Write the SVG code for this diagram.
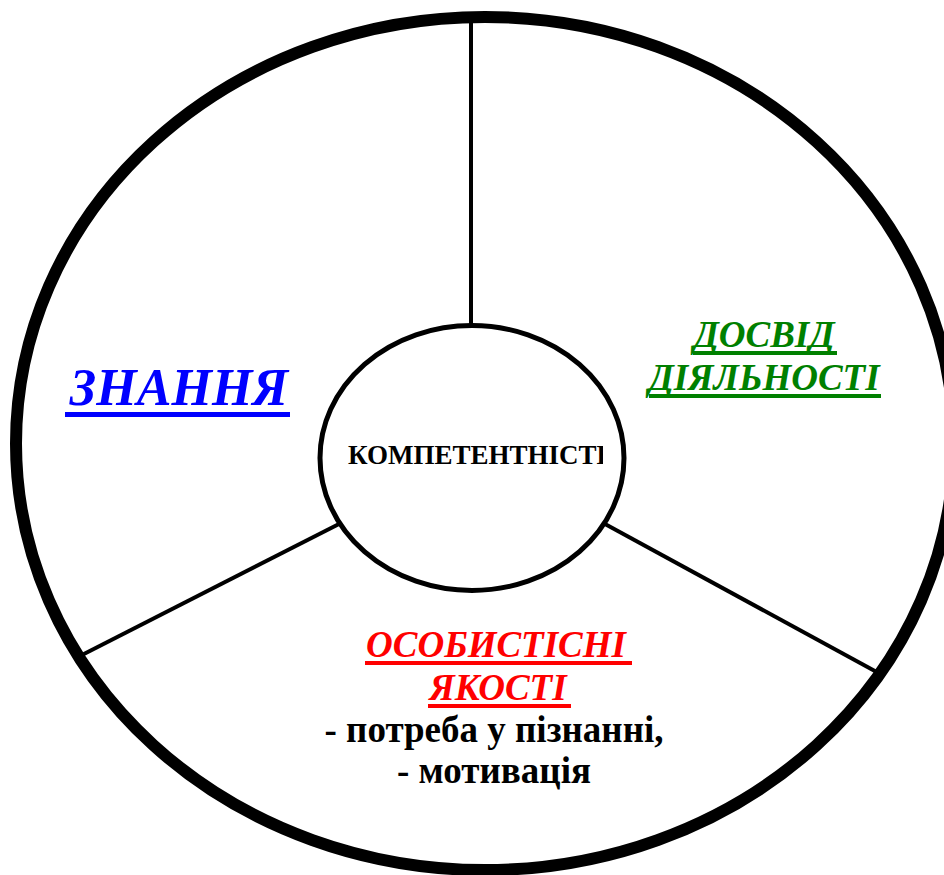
<svg xmlns="http://www.w3.org/2000/svg" width="944" height="875" viewBox="0 0 944 875">
<style>
.ring{fill:none;stroke:#000;stroke-width:12}
.hub{fill:#fff;stroke:#000;stroke-width:5}
.conn{stroke:#000;stroke-width:4;fill:none}
.bi{font-family:"Liberation Serif","Times New Roman",serif;font-weight:bold;font-style:italic;text-anchor:middle}
.b{font-family:"Liberation Serif","Times New Roman",serif;font-weight:bold;text-anchor:middle}
</style>
<defs>
<clipPath id="hubclip"><rect x="300" y="420" width="303" height="70"/></clipPath>
</defs>
<rect width="944" height="875" fill="#fff"/>
<g id="outer-ring"><ellipse class="ring" cx="485" cy="443.5" rx="469" ry="426.5"/></g>
<g id="connectors">
<line class="conn" x1="471" y1="22" x2="471" y2="327"/>
<line class="conn" x1="339" y1="524" x2="80" y2="656"/>
<line class="conn" x1="605" y1="524" x2="884" y2="676"/>
</g>
<g id="hub">
<ellipse class="hub" cx="472" cy="458" rx="152" ry="132.5"/>
<text class="b" x="348" y="464" font-size="27" style="text-anchor:start" clip-path="url(#hubclip)">КОМПЕТЕНТНІСТЬ</text>
</g>
<g id="znannia">
<text class="bi" x="179" y="405" font-size="52" fill="#0000ff">ЗНАННЯ</text>
<rect x="65" y="412" width="225" height="5" fill="#0000ff"/>
</g>
<g id="dosvid">
<text class="bi" x="764" y="347" font-size="37" fill="#008000">ДОСВІД</text>
<rect x="693" y="351" width="144" height="4" fill="#008000"/>
<text class="bi" x="764" y="390" font-size="37" fill="#008000">ДІЯЛЬНОСТІ</text>
<rect x="649" y="394" width="232" height="4" fill="#008000"/>
</g>
<g id="osobystisni">
<text class="bi" x="496" y="657" font-size="37" fill="#ff0000">ОСОБИСТІСНІ</text>
<rect x="365" y="661" width="267" height="4" fill="#ff0000"/>
<text class="bi" x="498" y="700" font-size="37" fill="#ff0000">ЯКОСТІ</text>
<rect x="428" y="704" width="143" height="4" fill="#ff0000"/>
<text class="b" x="494" y="742" font-size="37">- потреба у пізнанні,</text>
<text class="b" x="494" y="783" font-size="37">- мотивація</text>
</g>
</svg>
